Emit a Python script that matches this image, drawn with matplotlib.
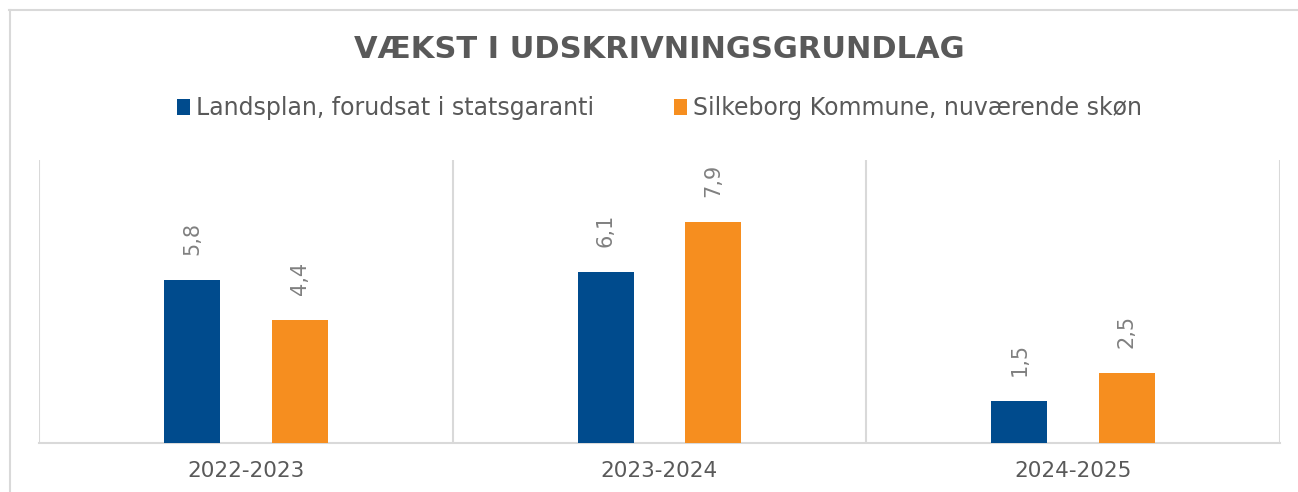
import matplotlib
matplotlib.use("Agg")
import matplotlib.pyplot as plt
from matplotlib.lines import Line2D
import numpy as np

categories = ["2022-2023", "2023-2024", "2024-2025"]
series_names = ["Landsplan, forudsat i statsgaranti", "Silkeborg Kommune, nuværende skøn"]
landsplan = [5.8, 6.1, 1.5]
silkeborg = [4.4, 7.9, 2.5]
title = "VÆKST I UDSKRIVNINGSGRUNDLAG"

colors = ["#004B8D", "#F68E1F"]
text_col = "#595959"
label_col = "#808080"
grid_col = "#D9D9D9"

plt.rcParams['font.family'] = ['DejaVu Sans']

W, H = 1298, 492
fig = plt.figure(figsize=(W / 100, H / 100), dpi=100)

# figure border (light gray), only top and left edges visible
fig.lines.append(Line2D([9 / W, 1.0], [1 - 9.5 / H, 1 - 9.5 / H], transform=fig.transFigure,
                        color=grid_col, linewidth=1.5))
fig.lines.append(Line2D([9.5 / W, 9.5 / W], [0.0, 1 - 9.5 / H], transform=fig.transFigure,
                        color=grid_col, linewidth=1.5))

ax = fig.add_axes([39 / W, (H - 443) / H, (1280 - 39) / W, (443 - 160) / H])

x = np.arange(len(categories))
bw = 0.135
off = 0.13
b1 = ax.bar(x - off, landsplan, bw, color=colors[0], label=series_names[0], zorder=3)
b2 = ax.bar(x + off, silkeborg, bw, color=colors[1], label=series_names[1], zorder=3)

for bars, vals in ((b1, landsplan), (b2, silkeborg)):
    for rect, v in zip(bars, vals):
        ax.annotate(f"{v:.1f}".replace(".", ","),
                    (rect.get_x() + rect.get_width() / 2, rect.get_height()),
                    xytext=(0, 18), textcoords="offset points",
                    rotation=90, ha="center", va="bottom",
                    fontsize=15, color=label_col)

ax.set_xlim(-0.5, len(categories) - 0.5)
ax.set_ylim(0, 10.1)
ax.set_yticks([])
ax.set_xticks(x)
ax.set_xticklabels(categories, fontsize=15.5, color=text_col)
ax.tick_params(axis="x", length=0, pad=13)
ax.set_xticks(np.arange(len(categories) + 1) - 0.5, minor=True)
ax.tick_params(axis="x", which="minor", length=0)
ax.grid(True, which="minor", axis="x", color=grid_col, linewidth=1.5, zorder=0)
for s in ["top", "right", "left"]:
    ax.spines[s].set_visible(False)
ax.spines["bottom"].set_color(grid_col)
ax.spines["bottom"].set_linewidth(1.5)

fig.text(0.508, 1 - 49 / H, title, ha="center", va="center",
         fontsize=22, fontweight="bold", color=text_col)

fig.legend(loc="center", bbox_to_anchor=(0.508, 1 - 108 / H), ncol=2, frameon=False,
           fontsize=17, labelcolor=text_col, handlelength=0.55, handleheight=0.65,
           handletextpad=0.25, columnspacing=3.4)

fig.savefig("out.png", dpi=100)
